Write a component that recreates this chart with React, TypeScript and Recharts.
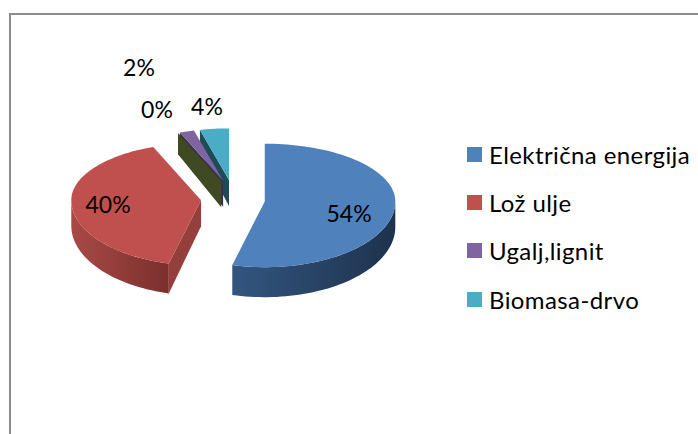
import { Legend, Pie, PieChart } from "recharts";

// drawn back to front, so the pie runs counter-clockwise from 12 o'clock
const categories = ["Biomasa-drvo", "Ugalj,lignit", "Ostalo", "Lož ulje", "Električna energija"];
const shares = [4, 2, 0, 40, 54];
const colors = ["#4bacc6", "#8064a2", "#9bbb59", "#c0504d", "#4f81bd"];
const wallColors = ["#1f4a57", "#3a2f4c", "#3f4a22", "#953f3c", "#1f3552"];
const sideFrom = ["#2f7f94", "#5c4678", "#6f8a3a", "#a84a46", "#33567f"];
const sideTo = ["#1f4a57", "#3a2f4c", "#3f4a22", "#7b2f2d", "#1e324d"];
const legendHidden = ["Ostalo"];

const data = categories.map((name, i) => ({ name, value: shares[i], fill: colors[i] }));

const labelSpots: Record<string, [number, number]> = {
  "Električna energija": [349, 213],
  "Lož ulje": [108, 204],
  Ostalo: [157, 109],
  "Ugalj,lignit": [139, 67],
  "Biomasa-drvo": [207, 106],
};

const FONT = "Lato, Carlito, sans-serif";
const EXPLODE = 32;
const rad = (d: number) => (d * Math.PI) / 180;

function Slice3D(props: any) {
  const { cx, cy, outerRadius, startAngle, endAngle, fill, name } = props;
  const i = categories.indexOf(name);
  // angles clockwise from the top
  const from = 450 - endAngle;
  const to = 450 - startAngle;
  const mid = (from + to) / 2;
  const ox = cx + EXPLODE * Math.sin(rad(mid));
  const oy = cy - EXPLODE * 0.6 * Math.cos(rad(mid));
  const scale = 1 + 0.005 * (oy - cy);

  const rim = (t: number, down = false) => {
    const c = Math.cos(rad(t));
    const ry = (c > 0 ? 57 : 65) * scale;
    const depth = down ? 25.5 - 4.5 * c : 0;
    return [ox + outerRadius * scale * Math.sin(rad(t)), oy - ry * c + depth];
  };
  const arc = (a: number, b: number, down = false) => {
    const pts = [];
    const steps = Math.max(1, Math.ceil(Math.abs(b - a) / 2));
    for (let s = 0; s <= steps; s++) pts.push(rim(a + ((b - a) * s) / steps, down));
    return pts;
  };
  const toPath = (pts: number[][]) => "M" + pts.map((p) => p.join(",")).join("L") + "Z";

  const sideA = Math.max(from, 90);
  const sideB = Math.min(to, 270);
  return (
    <g>
      {from >= 180 && (
        <path
          d={toPath([[ox, oy], rim(from), rim(from, true), [ox, oy + 26]])}
          fill={wallColors[i]}
        />
      )}
      {sideB > sideA && (
        <path
          d={toPath([...arc(sideA, sideB), ...arc(sideB, sideA, true)])}
          fill={`url(#side${i})`}
        />
      )}
      {to > from && <path d={toPath([[ox, oy], ...arc(from, to)])} fill={fill} />}
    </g>
  );
}

function renderLabel(props: any) {
  const spot = labelSpots[props.name];
  return (
    <text
      x={spot[0]}
      y={spot[1]}
      textAnchor="middle"
      dominantBaseline="central"
      fontFamily={FONT}
      fontSize={23}
      fill="#000"
    >
      {props.value}%
    </text>
  );
}

function renderLegend() {
  const rows = data.filter((d) => !legendHidden.includes(d.name)).reverse();
  return (
    <div style={{ fontFamily: FONT, fontSize: 24, letterSpacing: 0.4, color: "#000" }}>
      {rows.map((d) => (
        <div key={d.name} style={{ display: "flex", alignItems: "center", height: 48.3, whiteSpace: "nowrap" }}>
          <span style={{ width: 15, height: 15, background: d.fill, marginRight: 7, flex: "none" }} />
          {d.name}
        </div>
      ))}
    </div>
  );
}

export default function App() {
  return (
    <div style={{ position: "absolute", left: 0, top: 0, width: 698, height: 434, overflow: "hidden", background: "#fff" }}>
      <div
        style={{
          position: "absolute",
          left: 9,
          top: 13,
          width: 800,
          height: 600,
          borderLeft: "2px solid #8c8c8c",
          borderTop: "2px solid #8c8c8c",
        }}
      />
      <div style={{ position: "absolute", left: 0, top: 0 }}>
        <PieChart width={698} height={434} margin={{ top: 0, right: 0, bottom: 0, left: 0 }}>
          <defs>
            {categories.map((name, i) => (
              <linearGradient key={name} id={`side${i}`} x1="0" y1="0" x2="1" y2="0">
                <stop offset="0%" stopColor={sideFrom[i]} />
                <stop offset="100%" stopColor={sideTo[i]} />
              </linearGradient>
            ))}
          </defs>
          <Pie
            data={data}
            dataKey="value"
            nameKey="name"
            cx={233}
            cy={199}
            innerRadius={0}
            outerRadius={129}
            startAngle={90}
            endAngle={450}
            stroke="none"
            shape={Slice3D}
            label={renderLabel}
            labelLine={false}
            isAnimationActive={false}
          />
          <Legend
            content={renderLegend}
            layout="vertical"
            verticalAlign="middle"
            align="right"
            wrapperStyle={{ position: "absolute", left: 467, top: 130, right: "auto", width: 231 }}
          />
        </PieChart>
      </div>
    </div>
  );
}
